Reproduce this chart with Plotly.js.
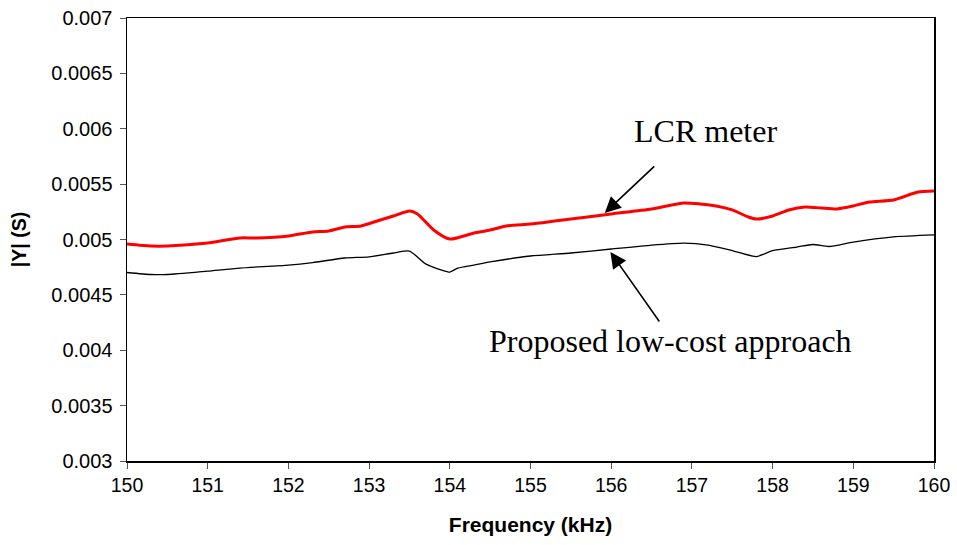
<!DOCTYPE html>
<html>
<head>
<meta charset="utf-8">
<script src="https://cdn.plot.ly/plotly-3.0.1.min.js"></script>
<style>
  html, body { margin: 0; padding: 0; background: #fff; }
  #chart { width: 957px; height: 545px; }
</style>
</head>
<body>
<div id="chart"></div>
<script>
// Admittance magnitude |Y| versus frequency, two measurement methods
const lcrFreq = [150, 150.3, 150.5, 151, 151.4, 151.6, 152, 152.3, 152.5, 152.7, 152.9,
  153.1, 153.3, 153.5, 153.6, 153.8, 154, 154.3, 154.5, 154.7, 155, 155.3, 155.5, 156,
  156.5, 156.9, 157.1, 157.3, 157.5, 157.7, 157.8, 158, 158.2, 158.4, 158.6, 158.8, 159,
  159.2, 159.5, 159.8, 160];
const lcrY = [0.004959, 0.004941, 0.004941, 0.004968, 0.005014, 0.005014, 0.005032, 0.005068,
  0.005077, 0.005113, 0.005122, 0.005167, 0.005212, 0.005258, 0.005231, 0.005086, 0.005004,
  0.005059, 0.005086, 0.005122, 0.00514, 0.005167, 0.005185, 0.005231, 0.005276, 0.00533,
  0.005321, 0.005303, 0.005267, 0.005203, 0.005185, 0.005212, 0.005267, 0.005294, 0.005285,
  0.005276, 0.005303, 0.005339, 0.005357, 0.005429, 0.005438];

const lowCostFreq = [150, 150.3, 150.5, 151, 151.4, 152, 152.3, 152.7, 153, 153.3, 153.5,
  153.7, 153.9, 154, 154.1, 154.3, 154.5, 155, 155.5, 156, 156.5, 156.9, 157.2, 157.5,
  157.8, 158, 158.3, 158.5, 158.7, 159, 159.5, 160];
const lowCostY = [0.004702, 0.004684, 0.004684, 0.004715, 0.004742, 0.004769, 0.004792,
  0.004833, 0.004844, 0.004878, 0.004896, 0.00478, 0.004724, 0.004706, 0.004742, 0.004769,
  0.004797, 0.004851, 0.004878, 0.004914, 0.00495, 0.004968, 0.00495, 0.0049, 0.004846,
  0.0049, 0.004932, 0.004955, 0.004937, 0.004977, 0.005023, 0.005041];

const yTicks = [0.003, 0.0035, 0.004, 0.0045, 0.005, 0.0055, 0.006, 0.0065, 0.007];
const yTickText = ['0.003', '0.0035', '0.004', '0.0045', '0.005', '0.0055', '0.006', '0.0065', '0.007'];
const xTicks = [150, 151, 152, 153, 154, 155, 156, 157, 158, 159, 160];

const traces = [
  { x: lowCostFreq, y: lowCostY, mode: 'lines', name: 'Proposed low-cost approach',
    line: { color: '#000000', width: 1.3, shape: 'spline', smoothing: 0.6 } },
  { x: lcrFreq, y: lcrY, mode: 'lines', name: 'LCR meter',
    line: { color: '#ff0000', width: 3, shape: 'spline', smoothing: 0.6 } }
];

const serif = 'Liberation Serif, Times New Roman, serif';
const sans = 'Liberation Sans, Arial, sans-serif';

const layout = {
  width: 957, height: 545,
  margin: { l: 127, r: 23, t: 18, b: 84 },
  paper_bgcolor: '#ffffff', plot_bgcolor: '#ffffff',
  showlegend: false,
  font: { family: sans, color: '#000000', size: 19 },
  xaxis: {
    range: [150, 160], tickvals: xTicks, ticktext: xTicks.map(String),
    showgrid: false, zeroline: false,
    showline: true, linecolor: '#000000', linewidth: 1.5, mirror: true,
    ticks: 'outside', ticklen: 6, tickcolor: '#555555', tickwidth: 1,
    tickfont: { family: sans, size: 19.5, color: '#000000' },
    title: { text: 'Frequency (kHz)', font: { family: sans, size: 21, color: '#000000', weight: 'bold' }, standoff: 22 }
  },
  yaxis: {
    range: [0.003, 0.007], tickvals: yTicks, ticktext: yTickText,
    showgrid: false, zeroline: false,
    showline: true, linecolor: '#000000', linewidth: 1.5, mirror: true,
    ticks: 'outside', ticklen: 6, tickcolor: '#555555', tickwidth: 1,
    ticklabelstandoff: 3,
    tickfont: { family: sans, size: 20, color: '#000000' },
    title: { text: '|Y| (S)', font: { family: sans, size: 19.5, color: '#000000', weight: 'bold' }, standoff: 19 }
  },
  annotations: [
    { x: 155.92, y: 0.00524, xref: 'x', yref: 'y', ax: 51, ay: -48, axref: 'pixel', ayref: 'pixel',
      showarrow: true, arrowhead: 2, arrowsize: 2, arrowwidth: 1.6, arrowcolor: '#000000', text: '' },
    { x: 155.99, y: 0.004887, xref: 'x', yref: 'y', ax: 50, ay: 71, axref: 'pixel', ayref: 'pixel',
      showarrow: true, arrowhead: 2, arrowsize: 2, arrowwidth: 1.6, arrowcolor: '#000000', text: '' },
    { x: 157.17, y: 0.005981, xref: 'x', yref: 'y', showarrow: false, text: 'LCR meter',
      font: { family: serif, size: 32, color: '#000000' } },
    { x: 156.74, y: 0.004082, xref: 'x', yref: 'y', showarrow: false, text: 'Proposed low-cost approach',
      font: { family: serif, size: 32, color: '#000000' } }
  ]
};

Plotly.newPlot('chart', traces, layout, { displayModeBar: false, staticPlot: true });
</script>
</body>
</html>
